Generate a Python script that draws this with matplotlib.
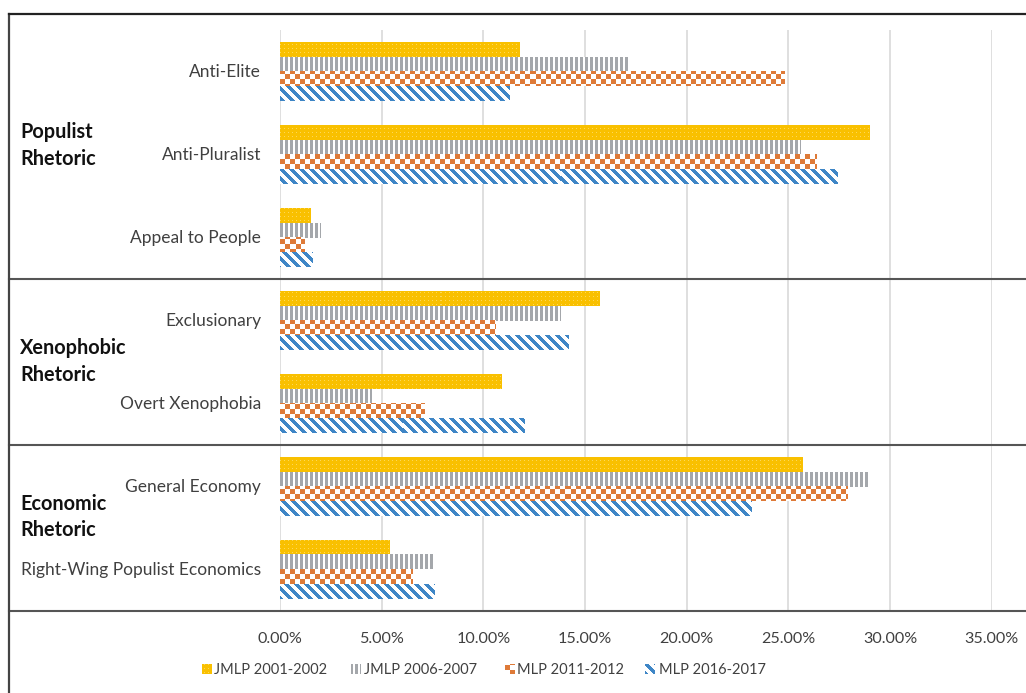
import numpy as np
import matplotlib
matplotlib.use("Agg")
import matplotlib.pyplot as plt
from matplotlib.lines import Line2D
from matplotlib.ticker import FuncFormatter

plt.rcParams["font.family"] = ["Lato", "DejaVu Sans"]

# -----------------------------
# data (share of statements, %)
# -----------------------------
categories = ["Anti-Elite", "Anti-Pluralist", "Appeal to People",
              "Exclusionary", "Overt Xenophobia",
              "General Economy", "Right-Wing Populist Economics"]
group_names = ["Populist\nRhetoric", "Xenophobic\nRhetoric", "Economic\nRhetoric"]
group_bounds = [3, 5, 7]
series = ["JMLP 2001-2002", "JMLP 2006-2007", "MLP 2011-2012", "MLP 2016-2017"]

jmlp_2001 = [11.8, 29.0, 1.5, 15.7, 10.9, 25.7, 5.4]
jmlp_2006 = [17.2, 25.6, 2.0, 13.8, 4.5, 29.0, 7.6]
mlp_2011 = [24.8, 26.4, 1.2, 10.6, 7.1, 27.9, 6.5]
mlp_2016 = [11.3, 27.4, 1.6, 14.2, 12.0, 23.2, 7.6]
values = [jmlp_2001, jmlp_2006, mlp_2011, mlp_2016]

x_ticks = [0, 5, 10, 15, 20, 25, 30, 35]

W, H, DPI = 1026, 693, 100


# -----------------------------
# fill patterns (pixel based)
# -----------------------------
def hexrgb(h):
    h = h.lstrip("#")
    return np.array([int(h[i:i + 2], 16) for i in (0, 2, 4)], dtype=np.uint8)


WHITE = hexrgb("#FFFFFF")


def pattern(kind, xs, ys):
    X, Y = np.meshgrid(xs, ys)
    img = np.empty(X.shape + (3,), dtype=np.uint8)
    if kind == 0:    # gold with faint dots
        img[:] = hexrgb("#F9C000")
        dots = (X % 4 == 0) & (Y % 4 == 0)
        img[dots] = hexrgb("#FDD858")
    elif kind == 1:  # vertical gray lines
        img[:] = WHITE
        img[(X % 5) < 3] = hexrgb("#A4A7AB")
    elif kind == 2:  # orange checkerboard
        img[:] = WHITE
        img[((X // 5) + (Y // 5)) % 2 == 0] = hexrgb("#DE7A38")
    else:            # blue downward diagonals
        img[:] = WHITE
        img[((X - Y) % 10) < 5] = hexrgb("#3F86C6")
    return img


fig = plt.figure(figsize=(W / DPI, H / DPI), dpi=DPI)

left, right, top, bottom = 280, 991.7, 30, 611
ax = fig.add_axes([left / W, 1 - bottom / H, (right - left) / W, (bottom - top) / H])
ax.set_xlim(0, 35)
ax.set_ylim(len(categories) - 0.5, -0.5)

bar_h = 0.176
offsets = (np.arange(4) - 1.5) * bar_h

# draw each bar, then fill it with its pattern image
for k, vals in enumerate(values):
    ypos = np.arange(len(categories)) + offsets[k]
    bars = ax.barh(ypos, vals, height=bar_h, color="none", zorder=2)
    for b in bars:
        x0, y0 = b.get_x(), b.get_y()
        x1, y1 = x0 + b.get_width(), y0 + b.get_height()
        (px0, py_a), (px1, py_b) = ax.transData.transform([(x0, y0), (x1, y1)])
        pw = max(int(round(px1 - px0)), 1)
        ph = max(int(round(abs(py_b - py_a))), 1)
        top_px = int(round(H - max(py_a, py_b)))
        img = pattern(k, np.arange(int(round(px0)), int(round(px0)) + pw),
                      np.arange(top_px, top_px + ph))
        # y0 is the upper edge on screen (inverted axis)
        ax.imshow(img, extent=(x0, x1, y1, y0), origin="upper",
                  interpolation="nearest", aspect="auto", zorder=2)

ax.set_xlim(0, 35)
ax.set_ylim(len(categories) - 0.5, -0.5)

ax.set_xticks(x_ticks)
ax.xaxis.set_major_formatter(FuncFormatter(lambda v, p: f"{v:.2f}%"))
ax.grid(axis="x", color="#D9D9D9", linewidth=1.2, zorder=0)
ax.set_axisbelow(True)
ax.tick_params(axis="x", length=0, pad=15, labelsize=11.6, labelcolor="#404040")
ax.set_yticks([])
for s in ax.spines.values():
    s.set_visible(False)

# category labels
for i, name in enumerate(categories):
    ax.text(-0.0265, i, name, transform=ax.get_yaxis_transform(),
            ha="right", va="center", fontsize=12.5, color="#404040")

# group labels, centred on their block
group_y = [145.5, 361.5, 517]
for name, yp in zip(group_names, group_y):
    fig.text(20 / W, 1 - yp / H, name, ha="left", va="center",
             fontsize=14.3, fontweight="bold", color="#111111", linespacing=1.42)

# group dividers, x axis line and outer frame
line_c = "#555555"
for yb in group_bounds:
    ydisp = ax.transData.transform((0, yb - 0.5))[1] / H
    fig.add_artist(Line2D([9 / W, 1], [ydisp, ydisp], color=line_c, lw=1.5))
fig.add_artist(Line2D([8.5 / W, 8.5 / W], [0, 1 - 14 / H], color="#444444", lw=1.6))
fig.add_artist(Line2D([8.5 / W, 1], [1 - 14 / H, 1 - 14 / H], color="#222222", lw=1.6))

# legend
leg_x = [202, 351, 505, 645]
txt_x = [214, 364, 517, 659]
leg_y = 669
for k, name in enumerate(series):
    sw = fig.add_axes([leg_x[k] / W, 1 - (leg_y + 5) / H, 10 / W, 10 / H])
    sw.imshow(pattern(k, np.arange(leg_x[k], leg_x[k] + 10),
                      np.arange(leg_y - 5, leg_y + 5)),
              interpolation="nearest", aspect="auto")
    sw.axis("off")
    fig.text(txt_x[k] / W, 1 - (leg_y + 1) / H, name, ha="left", va="center",
             fontsize=10.5, color="#404040")

fig.savefig("out.png", dpi=DPI)
